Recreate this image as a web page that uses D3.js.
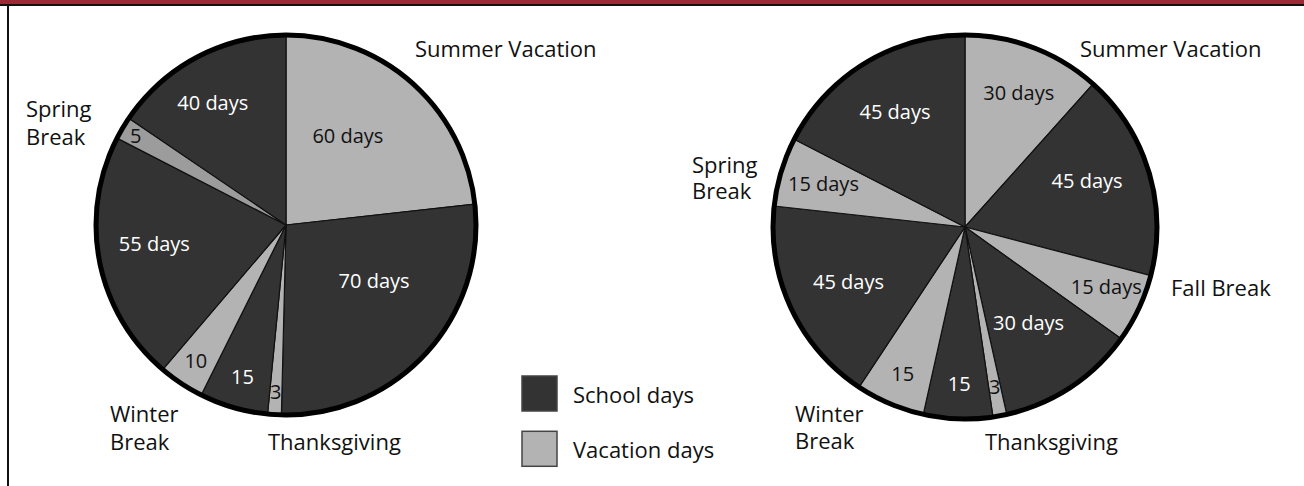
<!DOCTYPE html>
<html>
<head>
<meta charset="utf-8">
<script src="https://cdn.jsdelivr.net/npm/d3@7"></script>
<style>
  body { margin: 0; background: #fff; }
  text { font-family: "Open Sans", sans-serif; }
</style>
</head>
<body>
<div id="chart"></div>
<script>
// left pie: current calendar, clockwise from 12 o'clock
let leftCategories = ["Summer Vacation", "School", "Thanksgiving", "School", "Winter Break", "School", "Spring Break", "School"];
let leftKinds = ["vacation", "school", "vacation", "school", "vacation", "school", "short", "school"];
let leftValues = [60, 70, 3, 15, 10, 55, 5, 40];
let leftLabels = ["60 days", "70 days", "3", "15", "10", "55 days", "5", "40 days"];

// right pie: year-round calendar
let rightCategories = ["Summer Vacation", "School", "Fall Break", "School", "Thanksgiving", "School", "Winter Break", "School", "Spring Break", "School"];
let rightKinds = ["vacation", "school", "vacation", "school", "vacation", "school", "vacation", "school", "vacation", "school"];
let rightValues = [30, 45, 15, 30, 3, 15, 15, 45, 15, 45];
let rightLabels = ["30 days", "45 days", "15 days", "30 days", "3", "15", "15", "45 days", "15 days", "45 days"];

let legendKeys = ["school", "vacation"];
let legendNames = ["School days", "Vacation days"];

let svgW = 1304;
let svgH = 486;

let color = d3.scaleOrdinal()
  .domain(["school", "vacation", "short"])
  .range(["#333333", "#b3b3b3", "#9c9c9c"])

let textColor = d3.scaleOrdinal()
  .domain(["school", "vacation", "short"])
  .range(["#ffffff", "#111111", "#111111"])

let svg = d3.select("#chart")
  .append("svg")
  .attr("width", svgW)
  .attr("height", svgH)

// frame
svg.append("rect").attr("x", 0).attr("y", 0).attr("width", svgW).attr("height", 4).attr("fill", "#9b2a35")
svg.append("rect").attr("x", 0).attr("y", 4).attr("width", svgW).attr("height", 2).attr("fill", "#111")
svg.append("rect").attr("x", 7).attr("y", 4).attr("width", 2).attr("height", svgH).attr("fill", "#111")

let pie = d3.pie().sort(null).value(d => d.value)

// label layout: radius as fraction of pie radius, angle shift in degrees
let leftLayout = {
  cx: 286, cy: 225, r: 190,
  labelR: [0.57, 0.55, 0.88, 0.83, 0.86, 0.70, 0.92, 0.75],
  labelShift: [-7, -10, 0, 0, 0, 3, 0, -3],
  outer: [
    { lines: ["Summer Vacation"], x: 415, y: 57, lh: 28 },
    { lines: ["Spring", "Break"], x: 26, y: 117, lh: 28 },
    { lines: ["Winter", "Break"], x: 110, y: 422, lh: 28 },
    { lines: ["Thanksgiving"], x: 268, y: 450, lh: 28 }
  ]
}

let rightLayout = {
  cx: 965, cy: 227, r: 192,
  labelR: [0.75, 0.68, 0.8, 0.6, 0.85, 0.82, 0.83, 0.67, 0.77, 0.7],
  labelShift: [1, -4, -2, 0, 0, 0, 0, 0, 0, 0],
  outer: [
    { lines: ["Summer Vacation"], x: 1080, y: 57, lh: 26 },
    { lines: ["Spring", "Break"], x: 692, y: 173, lh: 26 },
    { lines: ["Fall Break"], x: 1171, y: 296, lh: 26 },
    { lines: ["Winter", "Break"], x: 795, y: 422, lh: 27 },
    { lines: ["Thanksgiving"], x: 985, y: 450, lh: 27 }
  ]
}

function drawPie(categories, kinds, values, labels, lay) {
  let data = categories.map((c, i) => ({ name: c, kind: kinds[i], value: values[i], label: labels[i], i: i }))

  let arc = d3.arc().innerRadius(0).outerRadius(lay.r)

  let group = svg.append("g")
    .attr("transform", `translate(${lay.cx},${lay.cy})`)

  group.selectAll("path.slice")
    .data(pie(data))
    .enter()
    .append("path")
    .attr("class", "slice")
    .attr("d", arc)
    .attr("fill", d => color(d.data.kind))
    .attr("stroke", "#111")
    .attr("stroke-width", 1.2)
    .attr("stroke-linejoin", "round")

  group.append("circle")
    .attr("r", lay.r)
    .attr("fill", "none")
    .attr("stroke", "#000")
    .attr("stroke-width", 5)

  group.selectAll("text.val")
    .data(pie(data))
    .enter()
    .append("text")
    .attr("class", "val")
    .attr("transform", d => {
      let a = (d.startAngle + d.endAngle) / 2 + lay.labelShift[d.data.i] * Math.PI / 180
      let rr = lay.r * lay.labelR[d.data.i]
      return `translate(${rr * Math.sin(a)},${-rr * Math.cos(a)})`
    })
    .attr("dy", "0.35em")
    .attr("text-anchor", "middle")
    .attr("font-size", 20)
    .attr("fill", d => textColor(d.data.kind))
    .text(d => d.data.label)

  // category names outside the pie, one text per line
  lay.outer.forEach(o => {
    o.lines.forEach((l, k) => {
      svg.append("text")
        .attr("x", o.x)
        .attr("y", o.y + k * o.lh)
        .attr("font-size", 22)
        .attr("fill", "#111")
        .text(l)
    })
  })
}

drawPie(leftCategories, leftKinds, leftValues, leftLabels, leftLayout)
drawPie(rightCategories, rightKinds, rightValues, rightLabels, rightLayout)

// legend
let ly = d3.scaleBand().domain(legendKeys).range([376, 470]).paddingInner(0.3)

let legend = svg.selectAll("g.legend")
  .data(legendKeys)
  .enter()
  .append("g")
  .attr("class", "legend")

legend.append("rect")
  .attr("x", 522)
  .attr("y", d => ly(d))
  .attr("width", 35)
  .attr("height", 35)
  .attr("fill", d => color(d))
  .attr("stroke", "#444")
  .attr("stroke-width", 1.5)

legend.append("text")
  .attr("x", 573)
  .attr("y", d => ly(d) + 27)
  .attr("font-size", 22)
  .attr("fill", "#111")
  .text((d, i) => legendNames[i])
</script>
</body>
</html>
